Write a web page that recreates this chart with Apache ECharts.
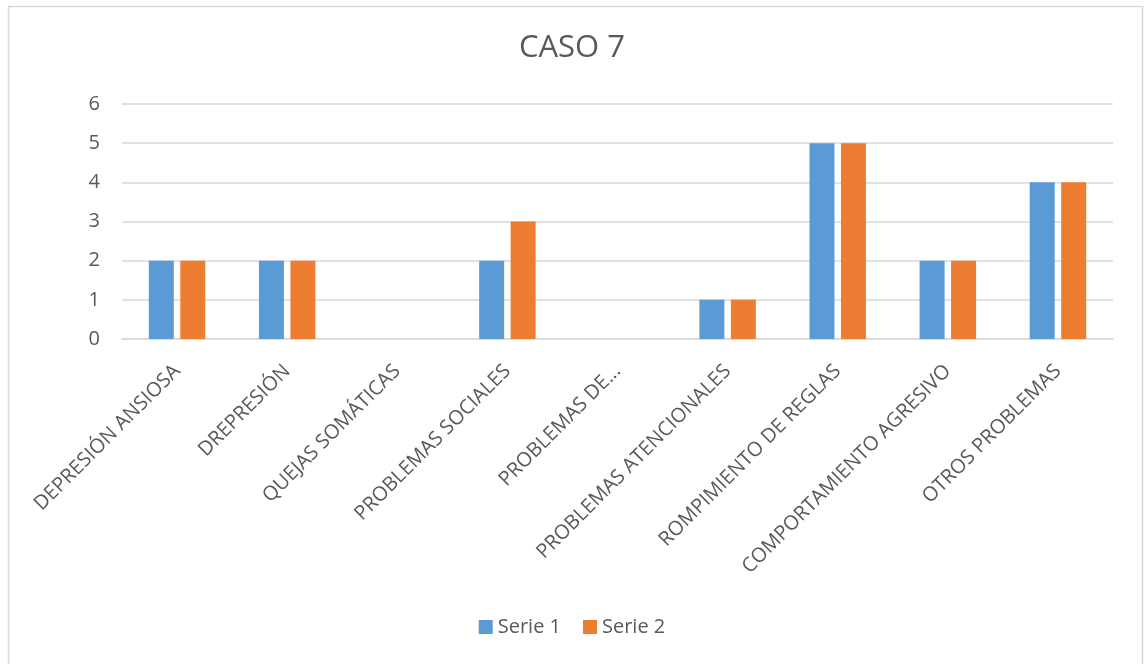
<!DOCTYPE html>
<html>
<head>
<meta charset="utf-8">
<script src="https://cdn.jsdelivr.net/npm/echarts@6/dist/echarts.min.js"></script>
<style>html,body{margin:0;padding:0;background:#fff}#c{width:1144px;height:664px}</style>
</head>
<body>
<div id="c"></div>
<script>
const categories = ["DEPRESIÓN ANSIOSA","DREPRESIÓN","QUEJAS SOMÁTICAS","PROBLEMAS SOCIALES","PROBLEMAS DE...","PROBLEMAS ATENCIONALES","ROMPIMIENTO DE REGLAS","COMPORTAMIENTO AGRESIVO","OTROS PROBLEMAS"];
const serie1 = [2,2,0,2,0,1,5,2,4];
const serie2 = [2,2,0,3,0,1,5,2,4];
const seriesNames = ["Serie 1","Serie 2"];
const yTicks = {min:0,max:6,interval:1};

const font = "'Open Sans', 'Liberation Sans', sans-serif";
const txt = '#595959';
const chart = echarts.init(document.getElementById('c'), null, {renderer:'canvas'});
chart.setOption({
  animation:false,
  backgroundColor:'#fff',
  graphic:[{type:'rect',shape:{x:8.5,y:6.5,width:1134,height:680},style:{fill:'none',stroke:'#d9d9d9',lineWidth:1.5},silent:true}],
  title:{text:'CASO 7',left:'center',top:28,textStyle:{fontFamily:font,fontSize:31,fontWeight:'normal',color:txt}},
  legend:{bottom:22,left:'center',itemWidth:14,itemHeight:14,itemGap:22,icon:'rect',
    textStyle:{fontFamily:font,fontSize:20,color:txt},data:seriesNames},
  grid:{left:122,right:31,top:104,bottom:325,containLabel:false},
  xAxis:{type:'category',data:categories,
    axisLine:{lineStyle:{color:'#d9d9d9',width:1.5}},axisTick:{show:false},
    axisLabel:{rotate:45,interval:0,margin:29,fontFamily:font,fontSize:20,color:txt}},
  yAxis:{type:'value',min:yTicks.min,max:yTicks.max,interval:yTicks.interval,
    axisLine:{show:false},axisTick:{show:false},
    splitLine:{lineStyle:{color:'#d9d9d9',width:1.5}},
    axisLabel:{margin:22,fontFamily:font,fontSize:20,color:txt}},
  series:[
    {name:seriesNames[0],type:'bar',data:serie1,barWidth:'22.7%',barGap:'26%',itemStyle:{color:'#5b9bd5'}},
    {name:seriesNames[1],type:'bar',data:serie2,barWidth:'22.7%',barGap:'26%',itemStyle:{color:'#ed7d31'}}
  ]
});
</script>
</body>
</html>
